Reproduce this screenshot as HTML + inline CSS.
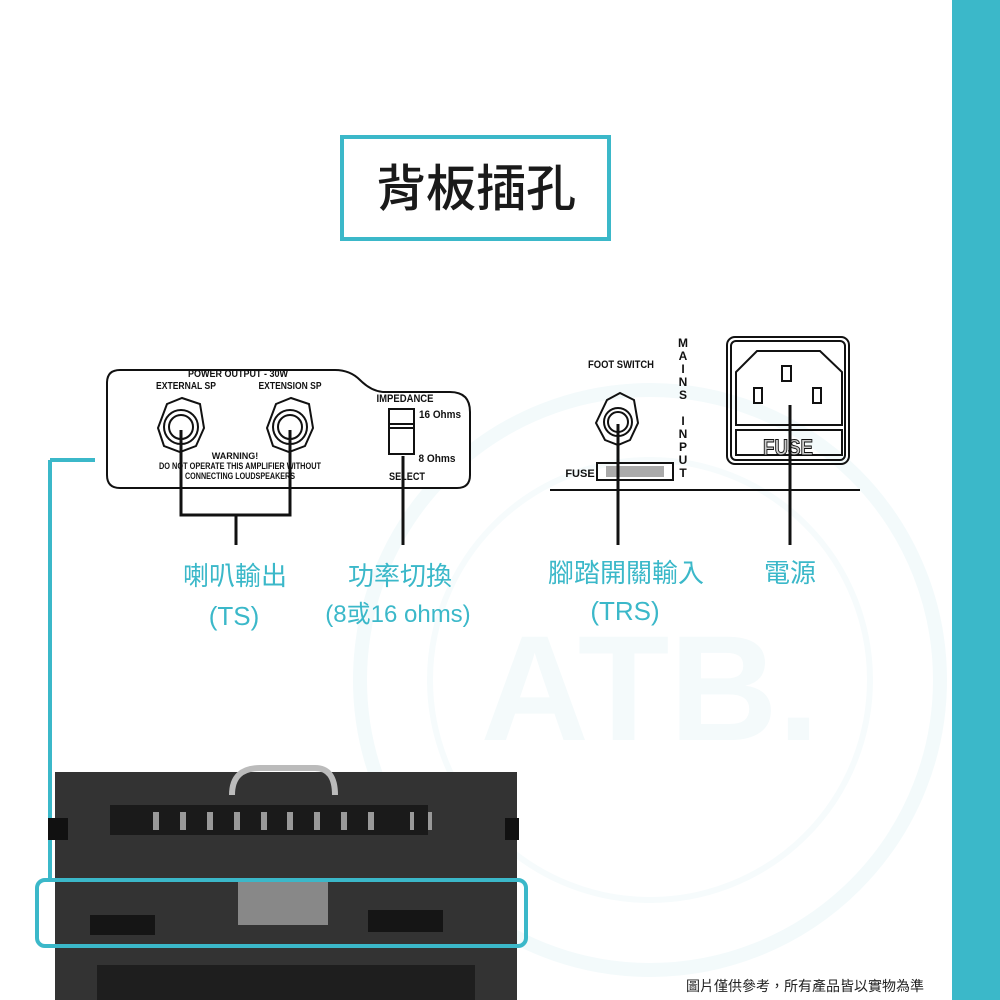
<!DOCTYPE html>
<html><head><meta charset="utf-8"><style>
body{margin:0;width:1000px;height:1000px;overflow:hidden;background:#fff;font-family:"Liberation Sans","Noto Sans CJK TC",sans-serif}
svg{display:block}
</style></head><body>
<svg width="1000" height="1000" viewBox="0 0 1000 1000" xmlns="http://www.w3.org/2000/svg" font-family="Liberation Sans, Noto Sans CJK TC, sans-serif">
<rect x="952" y="0" width="48" height="1000" fill="#3bb8c9"/>
<!-- watermark -->
<circle cx="650" cy="680" r="290" fill="none" stroke="#f3fafb" stroke-width="14"/>
<circle cx="650" cy="680" r="220" fill="none" stroke="#f6fbfc" stroke-width="6"/>
<text x="650" y="740" text-anchor="middle" font-size="150" font-weight="bold" fill="#f4fafb">ATB.</text>
<!-- title -->
<rect x="342" y="137" width="267" height="102" fill="#fff" stroke="#3bb8c9" stroke-width="4"/>
<text x="476" y="206" text-anchor="middle" font-size="50" font-weight="500" fill="#1a1a1a">背板插孔</text>
<!-- left panel -->
<path d="M120 370 H335 Q350 370 360 380 Q372 392 385 392 H450 Q470 392 470 412 V475 Q470 488 457 488 H120 Q107 488 107 475 V383 Q107 370 120 370 Z" fill="#fff" stroke="#111" stroke-width="2"/>
<g font-weight="bold" font-size="10" fill="#111" text-anchor="middle">
<text x="238" y="377" textLength="100" lengthAdjust="spacingAndGlyphs">POWER OUTPUT - 30W</text>
<text x="186" y="389" textLength="60" lengthAdjust="spacingAndGlyphs">EXTERNAL SP</text>
<text x="290" y="389" textLength="63" lengthAdjust="spacingAndGlyphs">EXTENSION SP</text>
<text x="405" y="402" font-size="11" textLength="57" lengthAdjust="spacingAndGlyphs">IMPEDANCE</text>
<text x="440" y="418" font-size="11" textLength="42" lengthAdjust="spacingAndGlyphs">16 Ohms</text>
<text x="437" y="462" font-size="11" textLength="37" lengthAdjust="spacingAndGlyphs">8 Ohms</text>
<text x="407" y="480" font-size="11" textLength="36" lengthAdjust="spacingAndGlyphs">SELECT</text>
<text x="235" y="459" font-size="9">WARNING!</text>
<text x="240" y="469" font-size="9" textLength="162" lengthAdjust="spacingAndGlyphs">DO NOT OPERATE THIS AMPLIFIER WITHOUT</text>
<text x="240" y="479" font-size="9" textLength="110" lengthAdjust="spacingAndGlyphs">CONNECTING LOUDSPEAKERS</text>
</g>
<g fill="none" stroke="#111" stroke-width="2">
<polygon points="167,404 182,398 200,404 204,428 196,446 180,452 164,446 158,428"/>
<circle cx="181" cy="427" r="17"/><circle cx="181" cy="427" r="12"/>
<polygon points="276,404 291,398 309,404 313,428 305,446 289,452 273,446 267,428"/>
<circle cx="290" cy="427" r="17"/><circle cx="290" cy="427" r="12"/>
<rect x="389" y="409" width="25" height="45"/>
<line x1="389" y1="424" x2="414" y2="424"/><line x1="389" y1="428" x2="414" y2="428"/>
</g>
<path d="M181 430 V515 H290 V430 M236 515 V545 M403 456 V545" fill="none" stroke="#111" stroke-width="3"/>
<!-- right panel -->
<line x1="550" y1="490" x2="860" y2="490" stroke="#111" stroke-width="2"/>
<text x="621" y="368" text-anchor="middle" font-size="11" font-weight="bold" fill="#111" textLength="66" lengthAdjust="spacingAndGlyphs">FOOT SWITCH</text>
<g fill="none" stroke="#111" stroke-width="2">
<polygon points="607,400 620,393 634,400 638,423 630,440 618,445 605,440 596,423"/>
<circle cx="618" cy="422" r="14"/><circle cx="618" cy="422" r="10"/>
<rect x="597" y="463" width="76" height="17"/>
<rect x="727" y="337" width="122" height="127" rx="8"/>
<rect x="731" y="341" width="114" height="119" rx="5"/>
<path d="M736 425 V372 L757 351 H820 L842 372 V425 Z"/>
<rect x="736" y="430" width="106" height="25"/>
<rect x="782" y="366" width="9" height="15"/><rect x="754" y="388" width="8" height="15"/><rect x="813" y="388" width="8" height="15"/>
</g>
<rect x="606" y="466" width="58" height="11" fill="#aaa"/>
<text x="580" y="477" text-anchor="middle" font-size="11" font-weight="bold" fill="#111">FUSE</text>
<text x="788" y="455" text-anchor="middle" font-size="22" font-weight="bold" fill="#ccc" stroke="#111" stroke-width="1" textLength="50" lengthAdjust="spacingAndGlyphs">FUSE</text>
<g font-size="12" font-weight="bold" fill="#111" text-anchor="middle">
<text x="683" y="347">M</text><text x="683" y="360">A</text><text x="683" y="373">I</text><text x="683" y="386">N</text><text x="683" y="399">S</text>
<text x="683" y="425">I</text><text x="683" y="438">N</text><text x="683" y="451">P</text><text x="683" y="464">U</text><text x="683" y="477">T</text>
</g>
<path d="M618 424 V545 M790 405 V545" stroke="#111" stroke-width="3"/>
<!-- labels -->
<g fill="#3bb8c9" font-size="26" text-anchor="middle">
<text x="235" y="585">喇叭輸出</text><text x="234" y="625">(TS)</text>
<text x="400" y="585">功率切換</text><text x="398" y="622" font-size="24">(8或16 ohms)</text>
<text x="626" y="582">腳踏開關輸入</text><text x="625" y="620">(TRS)</text>
<text x="790" y="582">電源</text>
</g>
<!-- amp -->
<path d="M50 460 H95" stroke="#3bb8c9" stroke-width="4"/>
<rect x="48" y="460" width="4" height="420" fill="#3bb8c9"/>
<rect x="55" y="772" width="462" height="228" fill="#333"/>
<rect x="48" y="818" width="20" height="22" fill="#111"/>
<rect x="505" y="818" width="14" height="22" fill="#111"/>
<rect x="110" y="805" width="318" height="30" fill="#1a1a1a"/>
<path d="M232 795 Q232 768 260 768 H315 Q335 768 335 795" fill="none" stroke="#bbb" stroke-width="6"/>
<g fill="#999"><rect x="153" y="812" width="6" height="18"/><rect x="180" y="812" width="6" height="18"/><rect x="207" y="812" width="6" height="18"/><rect x="234" y="812" width="6" height="18"/><rect x="261" y="812" width="6" height="18"/><rect x="287" y="812" width="6" height="18"/><rect x="314" y="812" width="6" height="18"/><rect x="341" y="812" width="6" height="18"/><rect x="368" y="812" width="6" height="18"/><rect x="410" y="812" width="4" height="18"/><rect x="428" y="812" width="4" height="18"/></g>
<rect x="238" y="880" width="90" height="45" fill="#ddd" opacity="0.5"/>
<rect x="90" y="915" width="65" height="20" fill="#151515"/>
<rect x="368" y="910" width="75" height="22" fill="#151515"/>
<rect x="97" y="965" width="378" height="35" fill="#1e1e1e"/>
<rect x="37" y="880" width="489" height="66" rx="8" fill="none" stroke="#3bb8c9" stroke-width="4"/>
<text x="805" y="991" text-anchor="middle" font-size="14" fill="#222">圖片僅供參考，所有產品皆以實物為準</text>
</svg>
</body></html>
